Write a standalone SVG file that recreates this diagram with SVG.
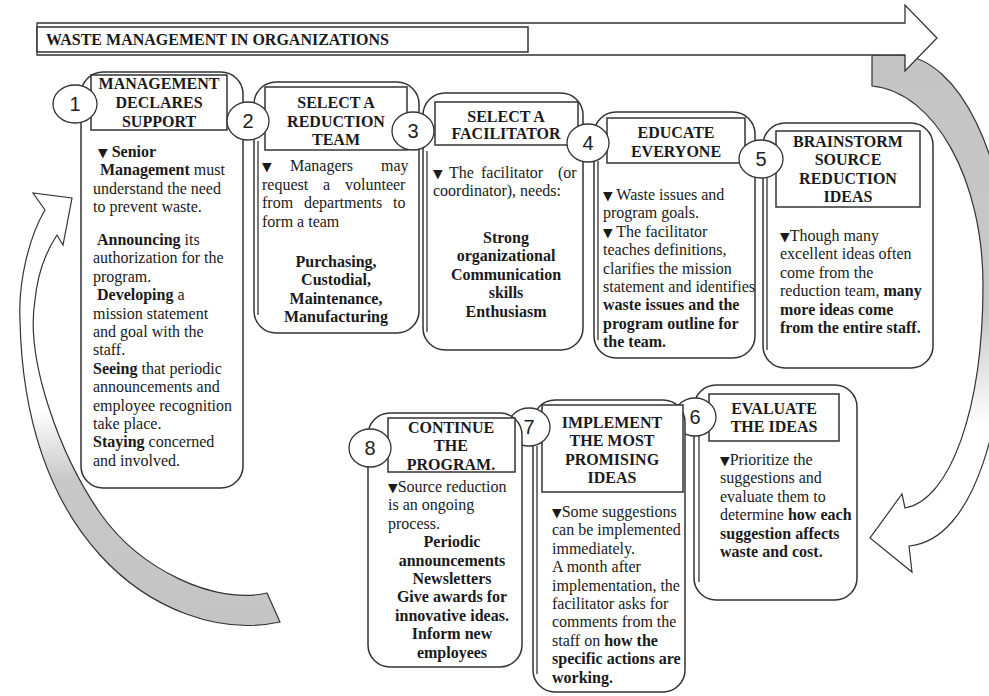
<svg xmlns="http://www.w3.org/2000/svg" width="989" height="696" viewBox="0 0 989 696">
<style>
.box{fill:#fff;stroke:#333;stroke-width:1.5}
.hdr{fill:#fff;stroke:#333;stroke-width:1.5}
.num{fill:#fff;stroke:#333;stroke-width:1.3}
.dbl{stroke:#333;stroke-width:1.3}
.n{font-family:"Liberation Sans",Arial,sans-serif;font-size:20px;fill:#222;text-anchor:middle}
.h{font-family:"Liberation Serif","Times New Roman",serif;font-weight:bold;font-size:16px;fill:#1a1a1a;text-anchor:middle}
.t{font-family:"Liberation Serif","Times New Roman",serif;font-size:16px;fill:#1a1a1a}
.b{font-weight:bold}
.tri{font-family:"DejaVu Sans",sans-serif;font-size:12.5px}
.arr{stroke:#333;stroke-width:1.2;stroke-linejoin:miter}
</style>
<defs>
<linearGradient id="gR" x1="0" y1="54" x2="0" y2="572" gradientUnits="userSpaceOnUse">
<stop offset="0" stop-color="#c4c4c4"/><stop offset="0.5" stop-color="#c8c8c8"/><stop offset="0.72" stop-color="#ffffff"/>
</linearGradient>
<linearGradient id="gL" x1="0" y1="630" x2="0" y2="190" gradientUnits="userSpaceOnUse">
<stop offset="0" stop-color="#c4c4c4"/><stop offset="0.34" stop-color="#c8c8c8"/><stop offset="0.5" stop-color="#ffffff"/>
</linearGradient>
</defs>
<rect width="989" height="696" fill="#fff"/>

<g id="connectors">
<path class="arr" fill="url(#gR)" d="M872,55 L900,55 C960,58 1008,160 1008,275 C1008,420 975,540 909,546 L912,572 L870,538 L902,494 L905,508 C950,500 983,410 983,285 C983,180 935,92 872,86 Z"/>
<path class="arr" fill="url(#gL)" d="M267,593 C215,605 140,570 100,513 C60,455 25,360 35,300 C38,270 47,250 57,235 L63,245 L72,198 L33,193 L45,210 C30,235 18,280 20,320 C22,420 50,500 100,555 C150,610 220,635 280,622 Z"/>
</g>

<g id="title">
<path fill="#fff" stroke="#333" stroke-width="1.3" d="M37,23 L905,23 L905,5 L937,38 L905,71 L905,55 L37,55 Z"/>
<rect x="37" y="27" width="491" height="25" fill="#fff" stroke="#333" stroke-width="1.5"/>
<text class="t b" x="46" y="45">WASTE MANAGEMENT IN ORGANIZATIONS</text>
</g>

<g id="step1">
<rect class="box" x="81" y="72" width="162" height="416" rx="22"/>
<rect class="hdr" x="91" y="75" width="136" height="55"/>
<text class="h" x="159" y="89">MANAGEMENT</text>
<text class="h" x="159" y="108">DECLARES</text>
<text class="h" x="159" y="127">SUPPORT</text>
<text class="t" x="98" y="157"><tspan class="tri">▼</tspan><tspan class="b"> Senior</tspan></text>
<text class="t" x="100" y="175.4"><tspan class="b">Management</tspan> must</text>
<text class="t" x="93" y="193.8">understand the need</text>
<text class="t" x="93" y="212.2">to prevent waste.</text>
<text class="t" x="97" y="245"><tspan class="b">Announcing</tspan> its</text>
<text class="t" x="93" y="263.4">authorization for the</text>
<text class="t" x="93" y="281.8">program.</text>
<text class="t" x="97" y="300.2"><tspan class="b">Developing</tspan> a</text>
<text class="t" x="93" y="318.6">mission statement</text>
<text class="t" x="93" y="337">and goal with the</text>
<text class="t" x="93" y="355.4">staff.</text>
<text class="t" x="93" y="373.8"><tspan class="b">Seeing</tspan> that periodic</text>
<text class="t" x="93" y="392.2">announcements and</text>
<text class="t" x="93" y="410.6">employee recognition</text>
<text class="t" x="93" y="429">take place.</text>
<text class="t" x="93" y="447.4"><tspan class="b">Staying</tspan> concerned</text>
<text class="t" x="93" y="465.8">and involved.</text>
<ellipse class="num" cx="75" cy="104" rx="22" ry="19"/>
<text class="n" x="75" y="111">1</text>
</g>

<g id="step2">
<rect class="box" x="254" y="82" width="165" height="251" rx="22"/>
<line class="dbl" x1="258" y1="141" x2="258" y2="315"/>
<rect class="hdr" x="265" y="87" width="142" height="63"/>
<text class="h" x="336" y="108">SELECT A</text>
<text class="h" x="336" y="127">REDUCTION</text>
<text class="h" x="336" y="145">TEAM</text>
<text class="t" y="171"><tspan class="tri" x="262">▼</tspan><tspan x="290">Managers</tspan><tspan x="381">may</tspan></text>
<text class="t" y="189.6"><tspan x="262">request</tspan><tspan x="323">a</tspan><tspan x="345">volunteer</tspan></text>
<text class="t" y="208.2"><tspan x="262">from</tspan><tspan x="304">departments</tspan><tspan x="393">to</tspan></text>
<text class="t" x="262" y="226.8">form a team</text>
<text class="h" x="336" y="267">Purchasing,</text>
<text class="h" x="336" y="285.4">Custodial,</text>
<text class="h" x="336" y="303.8">Maintenance,</text>
<text class="h" x="336" y="322.2">Manufacturing</text>
<ellipse class="num" cx="248" cy="121" rx="21" ry="19"/>
<text class="n" x="248" y="128">2</text>
</g>

<g id="step3">
<rect class="box" x="423" y="93" width="160" height="257" rx="22"/>
<line class="dbl" x1="427" y1="151" x2="427" y2="332"/>
<rect class="hdr" x="435" y="102" width="143" height="43"/>
<text class="h" x="506" y="122">SELECT A</text>
<text class="h" x="506" y="139">FACILITATOR</text>
<text class="t" y="178"><tspan class="tri" x="433">▼</tspan><tspan x="449">The</tspan><tspan x="481">facilitator</tspan><tspan x="558">(or</tspan></text>
<text class="t" x="433" y="196.4">coordinator), needs:</text>
<text class="h" x="506" y="243">Strong</text>
<text class="h" x="506" y="261.4">organizational</text>
<text class="h" x="506" y="279.8">Communication</text>
<text class="h" x="506" y="298.2">skills</text>
<text class="h" x="506" y="316.6">Enthusiasm</text>
<ellipse class="num" cx="413" cy="131" rx="21" ry="19"/>
<text class="n" x="413" y="138">3</text>
</g>

<g id="step4">
<rect class="box" x="594" y="112" width="161" height="246" rx="22"/>
<line class="dbl" x1="598" y1="161" x2="598" y2="340"/>
<rect class="hdr" x="607" y="118" width="138" height="45"/>
<text class="h" x="676" y="138">EDUCATE</text>
<text class="h" x="676" y="157">EVERYONE</text>
<text class="t" x="603" y="200"><tspan class="tri">▼</tspan> Waste issues and</text>
<text class="t" x="603" y="218.4">program goals.</text>
<text class="t" x="603" y="236.8"><tspan class="tri">▼</tspan> The facilitator</text>
<text class="t" x="603" y="255.2">teaches definitions,</text>
<text class="t" x="603" y="273.6">clarifies the mission</text>
<text class="t" x="603" y="292">statement and identifies</text>
<text class="t b" x="603" y="310.4">waste issues and the</text>
<text class="t b" x="603" y="328.8">program outline for</text>
<text class="t b" x="603" y="347.2">the team.</text>
<ellipse class="num" cx="588" cy="143" rx="21" ry="19"/>
<text class="n" x="588" y="150">4</text>
</g>

<g id="step5">
<rect class="box" x="763" y="123" width="170" height="245" rx="22"/>
<line class="dbl" x1="767" y1="178" x2="767" y2="350"/>
<rect class="hdr" x="776" y="131" width="144" height="76"/>
<text class="h" x="848" y="147">BRAINSTORM</text>
<text class="h" x="848" y="165.4">SOURCE</text>
<text class="h" x="848" y="183.8">REDUCTION</text>
<text class="h" x="848" y="202.2">IDEAS</text>
<text class="t" x="780" y="241"><tspan class="tri">▼</tspan>Though many</text>
<text class="t" x="780" y="259.4">excellent ideas often</text>
<text class="t" x="780" y="277.8">come from the</text>
<text class="t" x="780" y="296.2">reduction team, <tspan class="b">many</tspan></text>
<text class="t b" x="780" y="314.6">more ideas come</text>
<text class="t b" x="780" y="333">from the entire staff.</text>
<ellipse class="num" cx="761" cy="159" rx="22" ry="19"/>
<text class="n" x="761" y="166">5</text>
</g>

<g id="step6">
<rect class="box" x="694" y="385" width="163" height="215" rx="22"/>
<line class="dbl" x1="699" y1="436" x2="699" y2="582"/>
<rect class="hdr" x="709" y="394" width="130" height="47"/>
<text class="h" x="774" y="413.5">EVALUATE</text>
<text class="h" x="774" y="432">THE IDEAS</text>
<text class="t" x="720" y="465"><tspan class="tri">▼</tspan>Prioritize the</text>
<text class="t" x="720" y="483.4">suggestions and</text>
<text class="t" x="720" y="501.8">evaluate them to</text>
<text class="t" x="720" y="520.2">determine <tspan class="b">how each</tspan></text>
<text class="t b" x="720" y="538.6">suggestion affects</text>
<text class="t b" x="720" y="557">waste and cost.</text>
<ellipse class="num" cx="695" cy="417" rx="21" ry="19"/>
<text class="n" x="695" y="424">6</text>
</g>

<g id="step7">
<rect class="box" x="533" y="400" width="152" height="292" rx="22"/>
<line class="dbl" x1="537" y1="446" x2="537" y2="674"/>
<rect class="hdr" x="542" y="405" width="141" height="87"/>
<text class="h" x="612" y="428">IMPLEMENT</text>
<text class="h" x="612" y="446.4">THE MOST</text>
<text class="h" x="612" y="464.8">PROMISING</text>
<text class="h" x="612" y="483.2">IDEAS</text>
<text class="t" x="552" y="517"><tspan class="tri">▼</tspan>Some suggestions</text>
<text class="t" x="552" y="535.4">can be implemented</text>
<text class="t" x="552" y="553.8">immediately.</text>
<text class="t" x="552" y="572.2">A month after</text>
<text class="t" x="552" y="590.6">implementation, the</text>
<text class="t" x="552" y="609">facilitator asks for</text>
<text class="t" x="552" y="627.4">comments from the</text>
<text class="t" x="552" y="645.8">staff on <tspan class="b">how the</tspan></text>
<text class="t b" x="552" y="664.2">specific actions are</text>
<text class="t b" x="552" y="682.6">working.</text>
<ellipse class="num" cx="529" cy="427" rx="21" ry="19"/>
<text class="n" x="529" y="434">7</text>
</g>

<g id="step8">
<rect class="box" x="368" y="413" width="154" height="254" rx="22"/>
<rect class="hdr" x="388" y="418" width="127" height="54"/>
<text class="h" x="451" y="433">CONTINUE</text>
<text class="h" x="451" y="451.4">THE</text>
<text class="h" x="451" y="469.8">PROGRAM.</text>
<text class="t" x="388" y="492"><tspan class="tri">▼</tspan>Source reduction</text>
<text class="t" x="388" y="510.4">is an ongoing</text>
<text class="t" x="388" y="528.8">process.</text>
<text class="h" x="452" y="547.2">Periodic</text>
<text class="h" x="452" y="565.6">announcements</text>
<text class="h" x="452" y="584">Newsletters</text>
<text class="h" x="452" y="602.4">Give awards for</text>
<text class="h" x="452" y="620.8">innovative ideas.</text>
<text class="h" x="452" y="639.2">Inform new</text>
<text class="h" x="452" y="657.6">employees</text>
<ellipse class="num" cx="370" cy="448" rx="21" ry="19"/>
<text class="n" x="370" y="455">8</text>
</g>
</svg>
